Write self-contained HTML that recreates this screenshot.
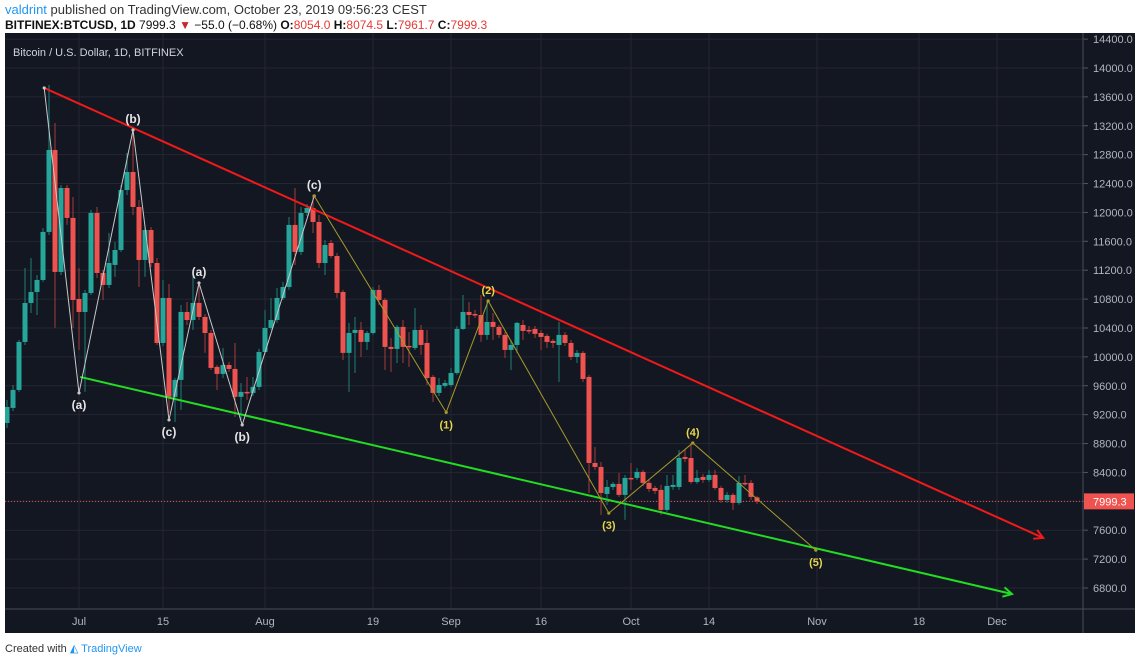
<!DOCTYPE html>
<html><head><meta charset="utf-8">
<style>
html,body{margin:0;padding:0;background:#fff;width:1140px;height:665px;overflow:hidden;font-family:"Liberation Sans",sans-serif;}
#hdr1{position:absolute;left:5px;top:2px;font-size:13px;color:#333;white-space:nowrap}
#hdr1 .u{color:#2196f3}
#hdr2{position:absolute;left:5px;top:18px;font-size:12px;color:#111;font-weight:bold;white-space:nowrap}
#hdr2 .n{font-weight:normal}
#hdr2 .r{color:#e53935;font-weight:normal}
#foot{position:absolute;left:5px;top:642px;font-size:11px;color:#333;white-space:nowrap}
#foot .tv{color:#2196f3}
svg{position:absolute;left:0;top:0}
</style></head><body>
<div id="hdr1"><span class="u">valdrint</span> published on TradingView.com, October 23, 2019 09:56:23 CEST</div>
<div id="hdr2">BITFINEX:BTCUSD, 1D <span class="n">7999.3 <span style="color:#c62828">▼</span> −55.0 (−0.68%)</span> O:<span class="r">8054.0</span> H:<span class="r">8074.5</span> L:<span class="r">7961.7</span> C:<span class="r">7999.3</span></div>
<svg id="chart" width="1140" height="665"></svg>
<div id="foot">Created with <span style="color:#2196f3">◭</span> <span class="tv">TradingView</span></div>
<script>
const opens=[9085,9293,9542,10207,10747,10899,11065,11730,12865,11176,12339,11924,10802,10622,10885,11993,11162,10996,11273,11480,12311,12560,12076,11342,11757,11300,10193,10816,9447,9681,10622,10511,10747,10553,10331,9861,9764,9888,9833,9447,9515,9501,9584,10068,10401,10511,10816,10968,11827,11453,11993,12062,11868,11300,11577,11397,10899,10055,10331,10373,10207,10331,10927,10788,10138,10110,10415,10152,10124,10373,10193,9722,9501,9598,9611,9777,10387,10622,10594,10580,10304,10484,10415,10304,10096,10165,10442,10373,10387,10331,10290,10221,10165,10304,10193,9999,10055,9722,8531,8476,8102,8199,8241,8089,8324,8324,8407,8255,8185,8158,7881,8199,8199,8614,8600,8268,8338,8296,8365,8185,8019,8089,7978,8255,8255,8054];
const closes=[9307,9542,10207,10747,10899,11065,11730,12865,11176,12339,11924,10788,10622,10885,11993,11162,10996,11300,11480,12311,12560,12076,11342,11757,11300,10193,10816,9447,9681,10622,10511,10747,10553,10331,9847,9764,9888,9833,9447,9515,9501,9584,10068,10401,10511,10816,10968,11827,11453,11993,12062,11868,11300,11550,11397,10885,10055,10331,10373,10207,10331,10927,10788,10138,10110,10415,10138,10138,10373,10165,9708,9501,9611,9639,9777,10387,10622,10580,10590,10304,10484,10415,10304,10096,10165,10470,10359,10370,10318,10276,10207,10193,10304,10193,9999,10055,9694,8531,8476,8116,8199,8241,8089,8324,8320,8407,8255,8172,8144,7881,8213,8227,8600,8587,8268,8324,8296,8365,8185,8019,8089,7978,8255,8241,8061,7999];
const highs=[9404,9611,10235,11231,11370,11134,11785,13765,13239,12380,12380,12214,11231,10927,12034,12076,11204,11716,11591,12380,12824,13170,12173,11827,11799,11370,11065,11010,9708,10719,10760,11121,11024,10594,10373,9888,10124,9930,10193,9639,9722,9722,10110,10650,10816,10954,11038,11937,12339,12076,12117,12242,11965,11619,11619,11439,10927,10470,10553,10484,10359,10968,10996,10816,10262,10442,10511,10345,10677,10442,10373,9750,9708,9681,9847,10428,10857,10760,10650,10857,10788,10608,10442,10345,10235,10484,10511,10428,10428,10373,10318,10248,10484,10345,10235,10096,10082,9750,8753,8545,8296,8268,8393,8365,8531,8462,8435,8296,8213,8227,8365,8365,8711,8711,8808,8435,8379,8435,8435,8213,8130,8116,8351,8365,8296,8075];
const lows=[9016,9251,9515,10165,10608,10580,11038,11688,10401,11134,11827,10401,10096,9515,10857,11093,10788,10954,11107,11453,12242,11965,10968,11107,11245,10165,10152,9224,9099,9265,10442,10373,10511,10055,9819,9542,9708,9791,9168,9127,9404,9459,9542,10041,10373,10470,10788,10927,11273,11411,11951,11716,11231,11134,11370,10816,9957,9515,9777,9999,10096,10304,10719,9819,9791,9916,9916,9861,10096,10027,9611,9376,9459,9570,9584,9750,10373,10442,10539,10207,10235,10235,10262,9985,9819,10055,10235,10318,10262,10096,10124,10124,9653,10152,9957,9916,9653,8116,8435,7812,7950,8158,8061,7743,8158,8296,8213,8130,8102,7812,7853,8158,8158,8545,8241,8241,8255,8268,8158,7978,7978,7881,7950,8213,8019,7962];
const priceTicks=[14400,14000,13600,13200,12800,12400,12000,11600,11200,10800,10400,10000,9600,9200,8800,8400,8000,7600,7200,6800];
const dateLabels=["Jul","15","Aug","19","Sep","16","Oct","14","Nov","18","Dec"];
const dateIdx=[12,26,43,61,74,89,104,117,135,152,165];
const whiteWave=[[6.2,13724],[12,9501],[21,13142],[27,9127],[32,11024],[39.2,9058],[51.2,12228]];
const whiteLabels=["","(a)","(b)","(c)","(a)","(b)","(c)"];
const yellowWave=[[51.2,12228],[73.2,9232],[80.2,10774],[100.3,7836],[114.3,8808],[134.8,7324]];
const yellowLabels=["","(1)","(2)","(3)","(4)","(5)"];
const resistance=[[6.2,13724],[172.7,7493]];
const support=[[12.2,9722],[167.5,6717]];
const lastPrice=7999.3;

const X0=5,X1=1083,Y0=33,Y1=609,XR=1135,YB=633;
const x=i=>7+6*i;
const y=p=>68+(14000-p)*0.07222;
const svg=document.getElementById('chart');
const NS='http://www.w3.org/2000/svg';
function mk(tag,attrs,parent){const e=document.createElementNS(NS,tag);for(const k in attrs)e.setAttribute(k,attrs[k]);(parent||svg).appendChild(e);return e;}

const bg=mk('rect',{x:X0,y:Y0,width:XR-X0,height:YB-Y0,fill:'#131722'});


const clip=mk('clipPath',{id:'pc'});mk('rect',{x:X0,y:Y0,width:X1-X0,height:Y1-Y0},clip);
const plot=mk('g',{'clip-path':'url(#pc)'});



priceTicks.forEach(p=>{
  const g=mk('line',{x1:X0,x2:X1,y1:y(p),y2:y(p),stroke:'#242733','stroke-width':1},plot);
  
  
  const t=mk('text',{x:1093,y:y(p)+4,fill:'#b2b5be','font-size':11,'font-family':'Liberation Sans, sans-serif'});
  t.textContent=p.toFixed(1);
  
  
  const tk=mk('line',{x1:X1,x2:X1+5,y1:y(p),y2:y(p),stroke:'#555'});
  
  
});
dateIdx.forEach((d,k)=>{
  const g=mk('line',{x1:x(d),x2:x(d),y1:Y0,y2:Y1,stroke:'#242733'},plot);
  
  
  const t=mk('text',{x:x(d),y:625,fill:'#b2b5be','font-size':11,'text-anchor':'middle','font-family':'Liberation Sans, sans-serif'});
  t.textContent=dateLabels[k];
  
  
});

opens.forEach((o,i)=>{
  const c=closes[i],up=c>=o,col=up?'#26a69a':'#ef5350';
  const g=mk('g',{},plot);
  
  
  mk('line',{x1:x(i),x2:x(i),y1:y(highs[i]),y2:y(lows[i]),stroke:up?'#1f7d75':'#a63d3b','stroke-width':1},g);
  const t=y(Math.max(o,c)),b=y(Math.min(o,c));
  mk('rect',{x:x(i)-2.5,y:t,width:5,height:Math.max(1.5,b-t),fill:col},g);
});

const lp=mk('line',{x1:X0,x2:X1,y1:y(lastPrice),y2:y(lastPrice),stroke:'#ef5350','stroke-dasharray':'1,2','stroke-width':1},plot);



function trend(pts,col,name){
  const g=mk('g',{},plot);
  
  
  const x1=x(pts[0][0]),y1=y(pts[0][1]),x2=x(pts[1][0]),y2=y(pts[1][1]);
  mk('line',{x1,y1,x2,y2,stroke:col,'stroke-width':2},g);
  const a=Math.atan2(y2-y1,x2-x1),L=10;
  mk('polyline',{points:`${x2-L*Math.cos(a-0.5)},${y2-L*Math.sin(a-0.5)} ${x2},${y2} ${x2-L*Math.cos(a+0.5)},${y2-L*Math.sin(a+0.5)}`,fill:'none',stroke:col,'stroke-width':2},g);
}
trend(resistance,'#f11a1a','resistance-line');
trend(support,'#22dd22','support-line');

function wave(pts,labels,col,lcol,name,fs){
  const g=mk('g',{},plot);
  
  
  mk('polyline',{points:pts.map(p=>x(p[0])+','+y(p[1])).join(' '),fill:'none',stroke:col,'stroke-width':1},g);
  pts.forEach((p,k)=>{
    mk('circle',{cx:x(p[0]),cy:y(p[1]),r:1.6,fill:col},g);
    if(!labels[k])return;
    const isHigh=(k>0&&pts[k-1][1]<p[1])||(k<pts.length-1&&pts[k+1][1]<p[1]);
    const t=mk('text',{x:x(p[0]),y:y(p[1])+(isHigh?-7:16),fill:lcol,'font-size':fs,'font-weight':'bold','text-anchor':'middle','font-family':'Liberation Sans, sans-serif'},g);
    t.textContent=labels[k];
    
    
  });
}
wave(whiteWave,whiteLabels,'#c8c8c8','#e6e6e6','corrective-wave',12);
wave(yellowWave,yellowLabels,'#a89a2a','#e5d64c','impulse-wave',11);

const lg=mk('text',{x:13,y:56,fill:'#d1d4dc','font-size':11,'font-family':'Liberation Sans, sans-serif'});
lg.textContent='Bitcoin / U.S. Dollar, 1D, BITFINEX';



const ax=mk('line',{x1:X1,x2:X1,y1:Y0,y2:YB,stroke:'#4a4e58'});


const tx=mk('line',{x1:X0,x2:XR,y1:Y1,y2:Y1,stroke:'#4a4e58'});



const pl=mk('g',{});


mk('rect',{x:X1+1,y:y(lastPrice)-8,width:50,height:16,fill:'#ef5350'},pl);
const plt=mk('text',{x:1093,y:y(lastPrice)+4,fill:'#fff','font-size':11,'font-family':'Liberation Sans, sans-serif'},pl);
plt.textContent=lastPrice.toFixed(1);
</script>
</body></html>
